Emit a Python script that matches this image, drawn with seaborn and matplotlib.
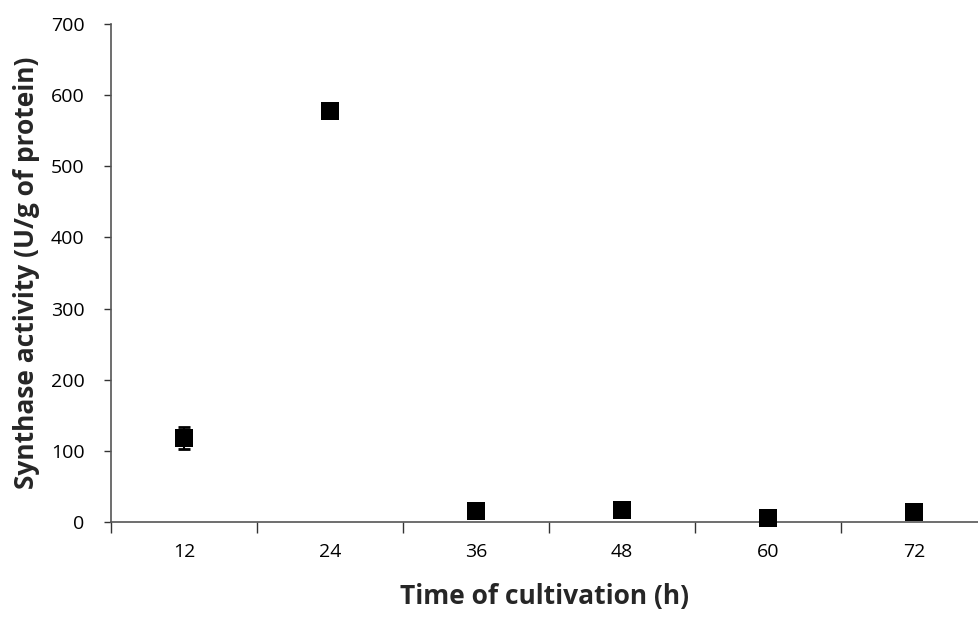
import matplotlib
matplotlib.use("Agg")
import matplotlib.pyplot as plt
import seaborn as sns
import numpy as np
import pandas as pd
from matplotlib.ticker import FixedLocator

hours = ["12", "24", "36", "48", "60", "72"]
activity = [118, 578, 16, 17, 6, 14]
errors = [15, 4, 3, 3, 3, 3]

sns.set_theme(style="white")
plt.rcParams['font.family'] = ['Open Sans', 'DejaVu Sans']

df = pd.DataFrame({"pos": np.arange(len(hours)), "hours": hours, "activity": activity, "err": errors})

fig = plt.figure(figsize=(9.79, 6.18), dpi=100)
ax = fig.add_axes([111/979, (618-522)/618, 1 - 111/979, (522-24)/618])

ax.errorbar(df["pos"], df["activity"], yerr=df["err"], fmt="none", ecolor="black",
            elinewidth=1.5, capsize=4, capthick=2, zorder=2)
sns.scatterplot(data=df, x="pos", y="activity", marker="s", s=150, color="black",
                edgecolor="black", linewidth=0, ax=ax, zorder=3, clip_on=False)

ax.set_xlim(-0.5, 5.445)
ax.set_ylim(0, 700)
ax.set_yticks(np.arange(0, 701, 100))
ax.set_xticks(df["pos"])
ax.set_xticklabels(hours)
ax.xaxis.set_minor_locator(FixedLocator(np.arange(-0.5, 5.5, 1.0)))
ax.tick_params(axis="x", which="major", length=0, pad=15, labelsize=14, colors="black")
ax.tick_params(axis="x", which="minor", length=8, width=1, color="#333333", direction="out", bottom=True)
ax.tick_params(axis="y", which="major", length=5, width=1, color="#333333", direction="out", left=True,
               labelsize=14, pad=14, labelcolor="black")

for s in ["top", "right"]:
    ax.spines[s].set_visible(False)
for s in ["left", "bottom"]:
    ax.spines[s].set_color("#555555")
    ax.spines[s].set_linewidth(1.2)

ax.set_xlabel("Time of cultivation (h)", fontsize=19, fontweight="bold", labelpad=16)
ax.set_ylabel("Synthase activity (U/g of protein)", fontsize=19, fontweight="bold", labelpad=8)
ax.grid(False)

fig.savefig("out.png", dpi=100)
